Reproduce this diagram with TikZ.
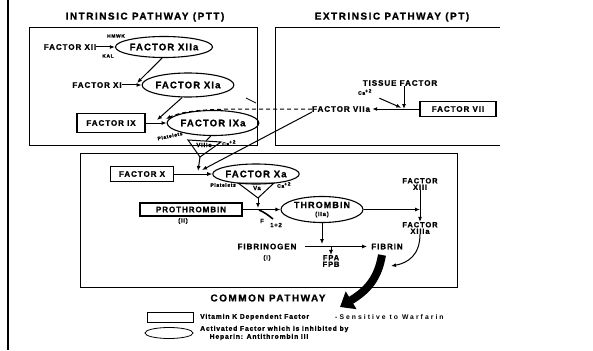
\documentclass[tikz,border=0pt]{standalone}
\usepackage{fontspec}
\usetikzlibrary{shapes.geometric,arrows.meta}
\newfontfamily\lab{Liberation Sans}[LetterSpace=12, BoldFeatures={FakeBold=1}]
\newfontfamily\tlab{Liberation Sans}[LetterSpace=15, BoldFeatures={FakeBold=1}]
\newfontfamily\wlab{Liberation Sans}[LetterSpace=30]
\newcommand\myfs[1]{\fontsize{#1}{#1}\selectfont}
\begin{document}
\begin{tikzpicture}[x=1pt,y=-1pt,
  ttl/.style={font=\tlab\bfseries\myfs{10}, inner sep=0pt},
  txt/.style={font=\lab\bfseries\myfs{8}, inner sep=0pt, align=center},
  two/.style={font=\lab\bfseries\myfs{7.5}, inner sep=0pt, align=center},
  sml/.style={font=\lab\bfseries\myfs{6}, inner sep=0pt},
  tiny/.style={font=\lab\bfseries\myfs{5}, inner sep=0pt},
  leg/.style={font=\lab\bfseries\myfs{6.8}, inner sep=0pt},
  fbox/.style={draw, line width=1.1pt, inner sep=0pt, font=\lab\bfseries\myfs{8}},
  fell/.style={draw, ellipse, line width=1.1pt, inner sep=0pt, font=\lab\bfseries\myfs{9.5}},
  arr/.style={line width=1pt, -{Latex[length=5pt,width=4pt]}},
  frame/.style={line width=0.8pt},
]
\fill[white] (0,0) rectangle (593,350);
\useasboundingbox (0,0) rectangle (593,350);
\draw[line width=2pt] (8,0) -- (8,350);

% frames
\draw[frame] (29,27) rectangle (257,145);
\draw[frame] (500,27) -- (275,27) -- (275,145) -- (500,145);
\draw[frame] (80,153) rectangle (457,287);

% titles
\node[ttl] (ti) at (145,17) {INTRINSIC PATHWAY (PTT)};
\node[ttl] (te) at (392,17) {EXTRINSIC PATHWAY (PT)};

% intrinsic
\node[txt] (f12) at (70,47) {FACTOR XII};
\node[fell, minimum width=78pt, minimum height=21pt] (f12a) at (164,47) {FACTOR XIIa};
\draw[arr] (f12) -- (f12a);
\node[tiny] (hm) at (116,36) {HMWK};
\node[tiny] (kal) at (108,56) {KAL};

\node[txt] (f11) at (97,85) {FACTOR XI};
\node[fell, minimum width=80pt, minimum height=24pt] (f11a) at (188,85) {FACTOR XIa};
\draw[arr] (f11) -- (f11a);
\coordinate (j1) at (137,83);
\draw[arr] (f12a.260) -- (j1);

\node[fbox, minimum width=68pt, minimum height=19pt] (f9) at (111,123) {FACTOR IX};
\node[fell, minimum width=78pt, minimum height=25pt] (f9a) at (213,123) {FACTOR IXa};
\draw[arr] (f9) -- (f9a);
\coordinate (j2) at (157,120);
\draw[arr] (f11a.245) -- (j2);

% VIIIc triangle
\coordinate (v8a) at (188,140);
\coordinate (v8b) at (221,142);
\coordinate (v8c) at (200,157);
\coordinate (v8t) at (206,141);
\draw[line width=1pt] (v8a) -- (v8b) -- (v8c) -- cycle;
\draw[line width=1pt] (f9a.260) -- (v8t);
\node[sml] (v8) at (204,145) {VIIIc};
\node[tiny, rotate=12] (pl1) at (170,136) {Platelets};
\node[tiny, anchor=west] (ca1) at (222,143) {Ca\textsuperscript{+2}};
\coordinate (j3) at (198,171);
\draw[arr] (v8c) -- (j3);

% extrinsic
\node[txt] (tf) at (400,83) {TISSUE FACTOR};
\node[tiny] (ca2) at (365,92) {Ca\textsuperscript{+2}};
\node[fbox, minimum width=76pt, minimum height=15pt] (f7) at (458,109) {FACTOR VII};
\node[txt, anchor=west] (f7a) at (312,109) {FACTOR VIIa};
\coordinate (j5) at (404,109);
\draw[arr, shorten >=2pt] (f7) -- (f7a);
\draw[arr] (tf.south -| j5) -- (j5);
\draw[arr, shorten <=8pt, shorten >=3pt] (ca2.south east) -- (j5);

% dashed feedback
\coordinate (j4) at (166,119);
\draw[line width=1pt, dash pattern=on 4pt off 3pt, -{Latex[length=5pt,width=4pt]}]
  (f7a.west) -- (245,109) .. controls (205,109) and (182,111) .. (j4);
\draw[line width=0.8pt] (246,98) -- (256,103);

% long line VIIa -> X
\coordinate (j3b) at (202,170);
\draw[arr] (f7a.south west) -- (j3b);

% common pathway
\node[fbox, minimum width=63pt, minimum height=15pt] (fx) at (142,174) {FACTOR X};
\node[fell, minimum width=80pt, minimum height=20pt] (fxa) at (256,174) {FACTOR Xa};
\draw[arr] (fx) -- (fxa);
\coordinate (vaa) at (238,183);
\coordinate (vab) at (274,183);
\coordinate (vac) at (258,198);
\draw[line width=1pt] (vaa) -- (vab) -- (vac) -- cycle;
\node[sml] (va) at (257,188) {Va};
\node[tiny, anchor=east] (pl2) at (236,185) {Platelets};
\node[tiny, anchor=west] (ca3) at (277,185) {Ca\textsuperscript{+2}};
\coordinate (j6) at (258,208);
\draw[arr] (vac) -- (j6);

\node[fbox, minimum width=102pt, minimum height=13pt] (pt) at (191,209.5) {PROTHROMBIN};
\node[sml] (pt2) at (183,221) {(II)};
\node[fell, minimum width=82pt, minimum height=26pt, align=center, font=\lab\bfseries\myfs{9}] (th) at (322,209.5) {THROMBIN\\[-1pt]{\myfs{6}(IIa)}};
\draw[arr] (pt) -- (th);
\draw[line width=1.6pt] (259,210) .. controls (264,212) and (268,215) .. (273,219);
\node[sml] (fF) at (262,221) {F};
\node[sml] (f12n) at (276,225) {1+2};

\coordinate (j7) at (420,209.5);
\draw[arr] (th) -- (j7);
\node[two] (f13) at (420,184) {FACTOR\\[-1pt]XIII};
\node[two] (f13a) at (420,228) {FACTOR\\[-1pt]XIIIa};
\draw[line width=1pt] (f13) -- (j7);
\draw[arr] (j7) -- (f13a);
\coordinate (j8) at (391,266);
\draw[arr] (f13a.south) .. controls (420,255) and (408,263) .. (j8);

\node[txt] (fbg) at (267,246.5) {FIBRINOGEN};
\node[sml] (fbgI) at (267,258) {(I)};
\node[txt] (fib) at (387,246.5) {FIBRIN};
\draw[arr, shorten <=8pt, shorten >=4pt] (fbg) -- (fib);
\coordinate (j9) at (322,244);
\draw[arr] (th.south) -- (j9);
\coordinate (j10) at (331,247);
\node[two] (fpa) at (331,261) {FPA\\[-1pt]FPB};
\draw[arr] (j10) -- (fpa.north);

% big arrow
\coordinate (j11) at (382,255);
\coordinate (j12) at (340,307);
\draw[line width=8pt, -{Triangle[length=13pt,width=20pt]}] (j11) .. controls (378,278) and (368,290) .. (j12);

\node[ttl] (cp) at (268,298) {COMMON PATHWAY};

% legend
\node[draw, line width=0.8pt, minimum width=46pt, minimum height=10pt, inner sep=0pt] (lr) at (170,317) {};
\node[leg, anchor=west] (lt1) at (200,317) {Vitamin K Dependent Factor};
\node[anchor=west, inner sep=0pt, font=\wlab\bfseries\myfs{6.8}] (lt2) at (335,317) {-Sensitive to Warfarin};
\node[draw, ellipse, line width=0.8pt, minimum width=48pt, minimum height=11pt, inner sep=0pt] (le) at (169,333) {};
\node[leg, anchor=west] (lt3) at (200,329) {Activated Factor which is inhibited by};
\node[leg] (lt4) at (259,337) {Heparin: Antithrombin III};
\end{tikzpicture}
\end{document}
